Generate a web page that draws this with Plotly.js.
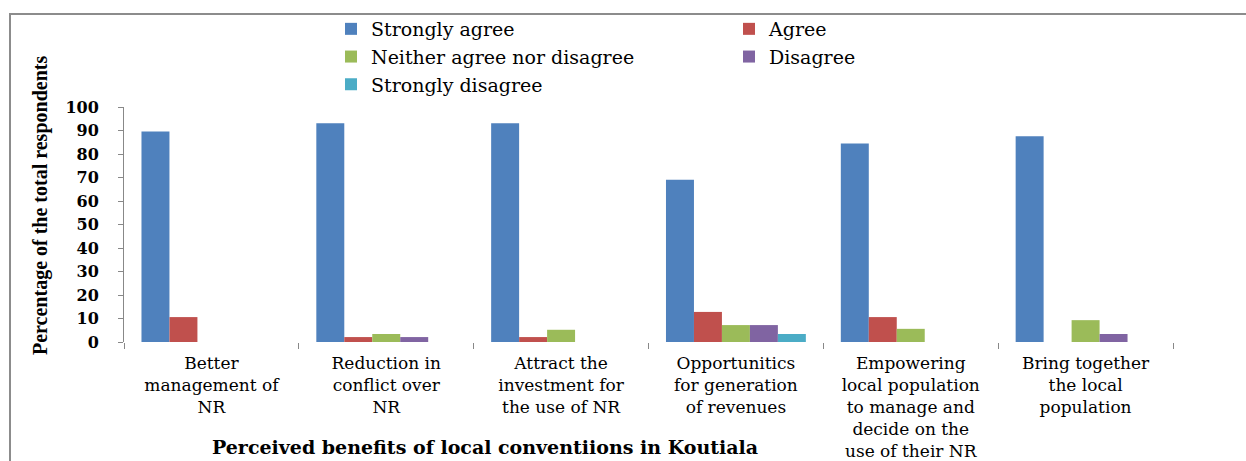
<!DOCTYPE html>
<html>
<head>
<meta charset="utf-8">
<script src="https://cdn.plot.ly/plotly-3.0.1.min.js"></script>
<style>html,body{margin:0;padding:0;background:#fff;}#chart{width:1246px;height:461px;}</style>
</head>
<body>
<div id="chart"></div>
<script>
const categories = [
  "Better<br>management of<br>NR",
  "Reduction in<br>conflict over<br>NR",
  "Attract the<br>investment for<br>the use of NR",
  "Opportunitics<br>for generation<br>of revenues",
  "Empowering<br>local population<br>to manage and<br>decide on the<br>use of their NR",
  "Bring together<br>the local<br>population"
];
const seriesNames = ["Strongly agree", "Agree", "Neither agree nor disagree", "Disagree", "Strongly disagree"];
const stronglyAgree    = [89.6, 93.1, 93.1, 69.0, 84.5, 87.6];
const agree            = [10.6, 2.1, 2.1, 12.8, 10.6, 0];
const neither          = [0, 3.4, 5.2, 7.2, 5.6, 9.3];
const disagree         = [0, 2.1, 0, 7.2, 0, 3.4];
const stronglyDisagree = [0, 0, 0, 3.4, 0, 0];
const colors = ["#4F81BD", "#C0504D", "#9BBB59", "#8064A2", "#4BACC6"];
const yTicks = [0, 10, 20, 30, 40, 50, 60, 70, 80, 90, 100];

const seriesValues = [stronglyAgree, agree, neither, disagree, stronglyDisagree];
const traces = seriesValues.map((vals, i) => ({
  type: "bar",
  name: seriesNames[i],
  x: categories,
  y: vals,
  marker: {color: colors[i], line: {width: 0}},
  hoverinfo: "x+y+name"
}));

const W = 1246, H = 461;
const mL = 124, mR = 73, mT = 107, mB = 119;
const pw = W - mL - mR, ph = H - mT - mB;
const px = x => (x - mL) / pw;
const py = y => (H - mB - y) / ph;

const layout = {
  width: W, height: H,
  margin: {l: mL, r: mR, t: mT, b: mB, autoexpand: false},
  paper_bgcolor: "#ffffff",
  plot_bgcolor: "#ffffff",
  barmode: "group",
  bargap: 0.2,
  bargroupgap: 0,
  font: {family: "DejaVu Serif", color: "#000"},
  xaxis: {
    type: "category",
    showline: false,
    showgrid: false,
    zeroline: false,
    ticks: "outside",
    tickson: "boundaries",
    ticklen: 6,
    tickcolor: "#888",
    tickwidth: 1,
    ticklabelstandoff: 9,
    tickfont: {family: "DejaVu Serif", size: 17, color: "#000"},
    tickangle: 0
  },
  yaxis: {
    range: [0, 100],
    tickvals: yTicks,
    ticktext: yTicks.map(String),
    showline: true,
    linecolor: "#888",
    linewidth: 1,
    showgrid: false,
    zeroline: false,
    ticks: "outside",
    ticklen: 5,
    tickcolor: "#888",
    ticklabelstandoff: 16,
    tickfont: {family: "DejaVu Serif", size: 16, color: "#000", weight: "bold"}
  },
  legend: {
    orientation: "h",
    xref: "container", yref: "container",
    x: 331 / W, y: 1 - 10 / H,
    xanchor: "left", yanchor: "top",
    entrywidth: 353, entrywidthmode: "pixels",
    traceorder: "normal",
    font: {family: "DejaVu Serif", size: 19, color: "#000"},
    bgcolor: "rgba(0,0,0,0)"
  },
  annotations: [
    {
      text: "<b>Perceived benefits of local conventiions in Koutiala</b>",
      xref: "paper", yref: "paper",
      x: px(485), y: py(447),
      xanchor: "center", yanchor: "middle",
      showarrow: false,
      font: {family: "DejaVu Serif", size: 19, color: "#000"}
    },
    {
      text: "<b>Percentage of the total respondents</b>",
      xref: "paper", yref: "paper",
      x: px(40), y: py(206),
      xanchor: "center", yanchor: "middle",
      textangle: -90,
      showarrow: false,
      font: {family: "Liberation Serif", size: 20, color: "#000"}
    }
  ],
  shapes: [
    {
      type: "rect", xref: "paper", yref: "paper",
      x0: px(10), x1: px(1260), y0: py(475), y1: py(14),
      line: {color: "#8c8c8c", width: 2},
      fillcolor: "rgba(0,0,0,0)",
      layer: "below"
    }
  ]
};

Plotly.newPlot("chart", traces, layout, {displayModeBar: false, staticPlot: true});
</script>
</body>
</html>
